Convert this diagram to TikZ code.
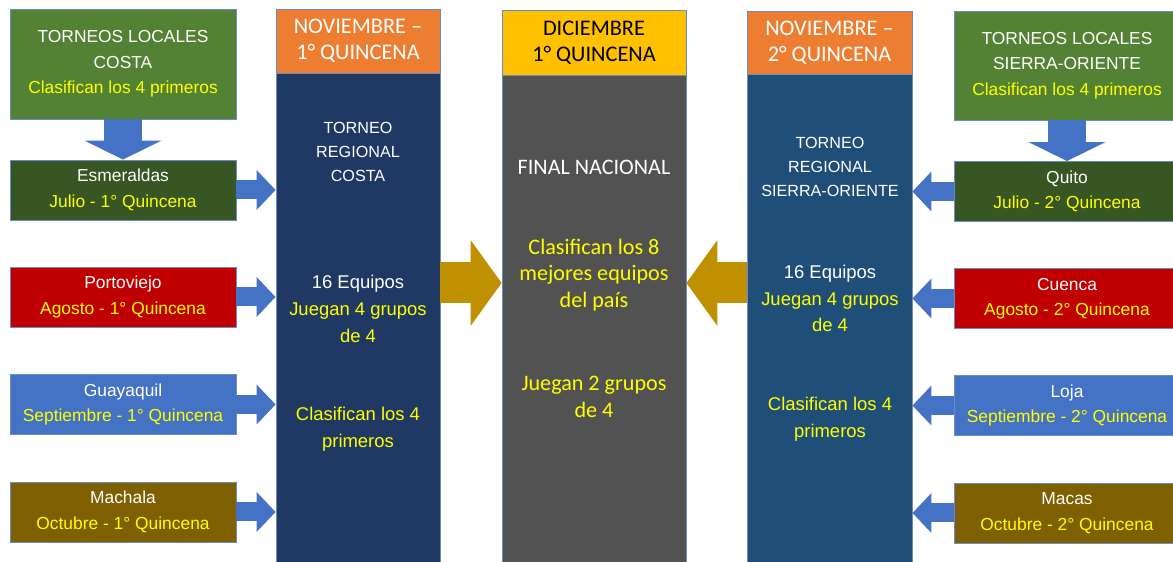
\documentclass[tikz,border=0pt]{standalone}
\usepackage{fontspec}
\setmainfont{Liberation Sans}
\newfontfamily\calibri{Carlito}
\usepackage{xcolor}
\usepackage{tikz}
\usetikzlibrary{positioning, arrows.meta}

\definecolor{localgreen}{HTML}{548235}
\definecolor{darkgreen}{HTML}{375623}
\definecolor{redbox}{HTML}{C00000}
\definecolor{bluebox}{HTML}{4472C4}
\definecolor{brownbox}{HTML}{7F6000}
\definecolor{orangehead}{HTML}{ED7D31}
\definecolor{goldhead}{HTML}{FFC000}
\definecolor{navycol}{HTML}{203864}
\definecolor{steelcol}{HTML}{1F4E79}
\definecolor{graycol}{HTML}{525252}
\definecolor{goldarrow}{HTML}{BF9000}
\definecolor{edge}{HTML}{6A8CC7}
\definecolor{txtyellow}{HTML}{FFFF00}

\begin{document}
\begin{tikzpicture}[
    box/.style={draw=edge, line width=0.5pt, minimum width=4.52cm, minimum height=1.2cm, align=center, text=white, font=\fontsize{9.9}{14.5}\selectfont},
    head/.style={draw=edge, line width=0.5pt, align=center, font=\calibri\fontsize{12.7}{14.7}\selectfont},
    colbody/.style={draw=edge, line width=0.5pt},
    coltext/.style={align=center, text=txtyellow, font=\fontsize{10.5}{15.3}\selectfont},
    coltitle/.style={align=center, text=white, font=\fontsize{9.2}{13.6}\selectfont},
    midtext/.style={align=center, text=txtyellow, font=\calibri\fontsize{12.6}{15.3}\selectfont},
    bluearrow/.style={draw=bluebox, line width=0.38cm, -{Triangle[length=0.38cm, width=0.8cm, line width=0pt]}},
    downarrow/.style={draw=bluebox, line width=0.76cm, -{Triangle[length=0.38cm, width=1.54cm, line width=0pt]}},
    goldarrow/.style={draw=goldarrow, line width=0.82cm, -{Triangle[length=0.62cm, width=1.72cm, line width=0pt]}}
  ]
      \useasboundingbox (0,0) rectangle (23.46,-11.24);

      \node[box, fill=localgreen, minimum height=2.2cm]  (LC)   at ( 2.46, -1.28)  {TORNEOS LOCALES \\ COSTA \\ \textcolor{txtyellow}{Clasifican los 4 primeros}};
      \node[box, fill=darkgreen]                         (ESM)  at ( 2.46, -3.80)  {Esmeraldas \\ \textcolor{txtyellow}{Julio - 1° Quincena}};
      \node[box, fill=redbox]                            (POR)  at ( 2.46, -5.94)  {Portoviejo \\ \textcolor{txtyellow}{Agosto - 1° Quincena}};
      \node[box, fill=bluebox]                           (GYE)  at ( 2.46, -8.09)  {Guayaquil \\ \textcolor{txtyellow}{Septiembre - 1° Quincena}};
      \node[box, fill=brownbox]                          (MAC)  at ( 2.46, -10.24) {Machala \\ \textcolor{txtyellow}{Octubre - 1° Quincena}};

      \node[box, fill=localgreen, minimum height=2.18cm] (LS)   at (21.34, -1.31)  {TORNEOS LOCALES \\ SIERRA-ORIENTE \\ \textcolor{txtyellow}{Clasifican los 4 primeros}};
      \node[box, fill=darkgreen]                         (UIO)  at (21.34, -3.83)  {Quito \\ \textcolor{txtyellow}{Julio - 2° Quincena}};
      \node[box, fill=redbox]                            (CUE)  at (21.34, -5.97)  {Cuenca \\ \textcolor{txtyellow}{Agosto - 2° Quincena}};
      \node[box, fill=bluebox]                           (LOJ)  at (21.34, -8.11)  {Loja \\ \textcolor{txtyellow}{Septiembre - 2° Quincena}};
      \node[box, fill=brownbox]                          (MCS)  at (21.34, -10.26) {Macas \\ \textcolor{txtyellow}{Octubre - 2° Quincena}};

      \node[head, fill=orangehead, text=white, minimum width=3.28cm, minimum height=1.28cm] (H1) at ( 7.16, -0.82) {NOVIEMBRE – \\ 1° QUINCENA};
      \node[head, fill=goldhead,   text=black, minimum width=3.68cm, minimum height=1.30cm] (H2) at (11.88, -0.85) {DICIEMBRE \\ 1° QUINCENA};
      \node[head, fill=orangehead, text=white, minimum width=3.30cm, minimum height=1.26cm] (H3) at (16.59, -0.85) {NOVIEMBRE – \\ 2° QUINCENA};

      \node[colbody, fill=navycol,  minimum width=3.28cm, minimum height=9.80cm, below=0pt of H1] (C1) {};
      \node[colbody, fill=graycol,  minimum width=3.68cm, minimum height=9.76cm, below=0pt of H2] (C2) {};
      \node[colbody, fill=steelcol, minimum width=3.30cm, minimum height=9.78cm, below=0pt of H3] (C3) {};

      \node[coltitle]            (T1)  at ( 7.16, -3.04) {TORNEO \\ REGIONAL \\ COSTA};
      \node[coltext]             (E1)  at ( 7.16, -6.18) {\textcolor{white}{16 Equipos} \\ Juegan 4 grupos \\ de 4};
      \node[coltext]             (K1)  at ( 7.16, -8.59) {Clasifican los 4 \\ primeros};

      \node[coltitle]            (T3)  at (16.60, -3.34) {TORNEO \\ REGIONAL \\ SIERRA-ORIENTE};
      \node[coltext]             (E3)  at (16.60, -5.97) {\textcolor{white}{16 Equipos} \\ Juegan 4 grupos \\ de 4};
      \node[coltext]             (K3)  at (16.60, -8.38) {Clasifican los 4 \\ primeros};

      \node[midtext, text=white] (FN)  at (11.88, -3.34) {FINAL NACIONAL};
      \node[midtext]             (M8)  at (11.88, -5.50) {Clasifican los 8 \\ mejores equipos \\ del país};
      \node[midtext]             (G2)  at (11.88, -7.93) {Juegan 2 grupos \\ de 4};

      \coordinate (mid) at (0, -5.66);

      \draw[downarrow] (LC.south) -- (ESM.north);
      \draw[downarrow] (LS.south) -- (UIO.north);

      \draw[bluearrow] (ESM.east) -- (ESM.east -| C1.west);
      \draw[bluearrow] (POR.east) -- (POR.east -| C1.west);
      \draw[bluearrow] (GYE.east) -- (GYE.east -| C1.west);
      \draw[bluearrow] (MAC.east) -- (MAC.east -| C1.west);

      \draw[bluearrow] (UIO.west) -- (UIO.west -| C3.east);
      \draw[bluearrow] (CUE.west) -- (CUE.west -| C3.east);
      \draw[bluearrow] (LOJ.west) -- (LOJ.west -| C3.east);
      \draw[bluearrow] (MCS.west) -- (MCS.west -| C3.east);

      \draw[goldarrow] (C1.east |- mid) -- (C2.west |- mid);
      \draw[goldarrow] (C3.west |- mid) -- (C2.east |- mid);
    \end{tikzpicture}
\end{document}
